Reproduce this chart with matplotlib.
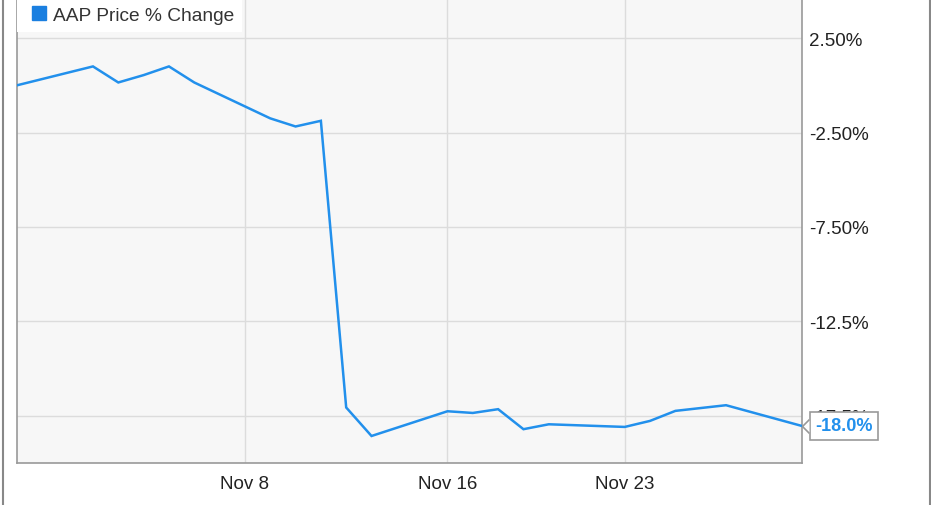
import datetime as dt
import matplotlib
matplotlib.use("Agg")
import matplotlib.pyplot as plt
import matplotlib.dates as mdates
from matplotlib.lines import Line2D
from matplotlib.path import Path

# trading days, Oct 30 - Nov 30 2020
dates = ["2020-10-30", "2020-11-02", "2020-11-03", "2020-11-04", "2020-11-05",
         "2020-11-06", "2020-11-09", "2020-11-10", "2020-11-11", "2020-11-12",
         "2020-11-13", "2020-11-16", "2020-11-17", "2020-11-18", "2020-11-19",
         "2020-11-20", "2020-11-23", "2020-11-24", "2020-11-25", "2020-11-27",
         "2020-11-30"]
pct_change = [0.0, 1.00, 0.15, 0.54, 1.00,
              0.15, -1.75, -2.18, -1.88, -17.06,
              -18.57, -17.26, -17.35, -17.15, -18.21,
              -17.95, -18.09, -17.77, -17.24, -16.94,
              -18.04]
series_name = "AAP Price % Change"
last_label = "-18.0%"

x_ticks = ["2020-11-08", "2020-11-16", "2020-11-23"]
x_tick_labels = ["Nov 8", "Nov 16", "Nov 23"]
y_ticks = [2.5, -2.5, -7.5, -12.5, -17.5]
y_tick_labels = ["2.50%", "-2.50%", "-7.50%", "-12.5%", "-17.5%"]

plt.rcParams["font.family"] = ["Liberation Sans", "DejaVu Sans"]

blue = "#2290ec"
grey_text = "#222222"

def to_dt(s):
    return dt.datetime.strptime(s, "%Y-%m-%d")

xs = [to_dt(d) for d in dates]

fig = plt.figure(figsize=(9.31, 5.06), dpi=100)
ax = fig.add_axes([17 / 931, 42 / 506, 785 / 931, 464 / 506])
ax.set_facecolor("#f7f7f7")

ax.plot(xs, pct_change, color=blue, lw=1.8, zorder=3, label=series_name,
        solid_joinstyle="miter")

ax.set_xlim(xs[0], xs[-1])
ax.set_ylim(-20.0, 4.57)

ax.set_xticks([mdates.date2num(to_dt(d)) for d in x_ticks])
ax.set_xticklabels(x_tick_labels)
ax.set_yticks(y_ticks)
ax.set_yticklabels(y_tick_labels)
ax.yaxis.tick_right()
ax.tick_params(axis="both", length=0, labelsize=13.5, colors=grey_text)
ax.tick_params(axis="x", pad=9)
ax.tick_params(axis="y", pad=5)

ax.grid(True, color="#dcdcdc", lw=1)
ax.set_axisbelow(True)

for side in ["left", "bottom", "right"]:
    ax.spines[side].set_color("#999999")
    ax.spines[side].set_linewidth(1.2)
ax.spines["top"].set_visible(False)

# legend
handle = Line2D([], [], marker="s", linestyle="none", color="#1a7fe0",
                markersize=10)
leg = ax.legend([handle], [series_name], loc="upper left",
                bbox_to_anchor=(0, 1), borderaxespad=0, frameon=True,
                fancybox=False, framealpha=1, fontsize=13.8,
                handlelength=1.45, handletextpad=0.05, borderpad=0.4,
                labelcolor="#333333")
leg.get_frame().set_facecolor("white")
leg.get_frame().set_edgecolor("none")

# last value callout
ax.annotate(last_label, xy=(xs[-1], pct_change[-1]), xytext=(13, 0),
            textcoords="offset pixels", ha="left", va="center",
            fontsize=13, fontweight="bold", color=blue,
            bbox=dict(boxstyle="square,pad=0.28", fc="white", ec="#999999",
                      lw=1.2),
            annotation_clip=False, zorder=6)
notch = Path([(1, -1), (0, 0), (1, 1)])
ax.plot([xs[-1]], [pct_change[-1]], marker=notch, markersize=10,
        markerfacecolor="white", markeredgecolor="#999999",
        markeredgewidth=1.2, linestyle="none", clip_on=False, zorder=7)

# outer frame lines
fig.add_artist(Line2D([2.5 / 931, 2.5 / 931], [0, 1], color="#888888",
                      lw=1.5, transform=fig.transFigure))
fig.add_artist(Line2D([929.5 / 931, 929.5 / 931], [0, 1], color="#888888",
                      lw=1.5, transform=fig.transFigure))

fig.savefig("out.png", dpi=100)
